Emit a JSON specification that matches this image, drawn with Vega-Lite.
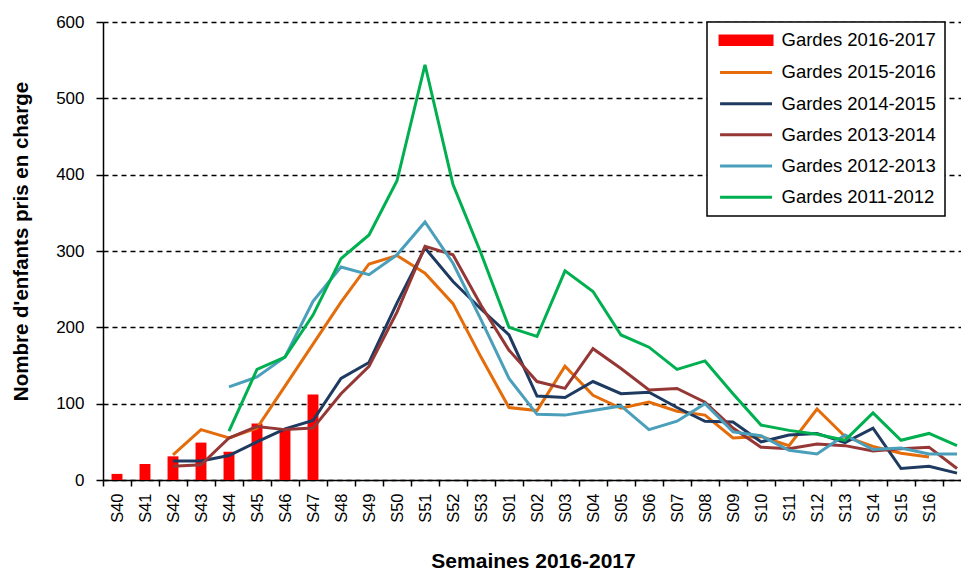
{
  "$schema": "https://vega.github.io/schema/vega-lite/v6.json",
  "autosize": "none",
  "width": 858,
  "height": 458,
  "padding": {"left": 103, "top": 22, "right": 0, "bottom": 96},
  "config": {
    "font": "Liberation Sans",
    "view": {"stroke": null},
    "background": "white"
  },
  "datasets": {
    "bars": [
      {"semaine": "S40", "serie": "Gardes 2016-2017", "valeur": 8},
      {"semaine": "S41", "serie": "Gardes 2016-2017", "valeur": 21},
      {"semaine": "S42", "serie": "Gardes 2016-2017", "valeur": 31},
      {"semaine": "S43", "serie": "Gardes 2016-2017", "valeur": 49},
      {"semaine": "S44", "serie": "Gardes 2016-2017", "valeur": 37},
      {"semaine": "S45", "serie": "Gardes 2016-2017", "valeur": 74},
      {"semaine": "S46", "serie": "Gardes 2016-2017", "valeur": 67},
      {"semaine": "S47", "serie": "Gardes 2016-2017", "valeur": 112}
    ],
    "lines": [
      {"semaine": "S42", "serie": "Gardes 2015-2016", "valeur": 33},
      {"semaine": "S43", "serie": "Gardes 2015-2016", "valeur": 66},
      {"semaine": "S44", "serie": "Gardes 2015-2016", "valeur": 55},
      {"semaine": "S45", "serie": "Gardes 2015-2016", "valeur": 68},
      {"semaine": "S46", "serie": "Gardes 2015-2016", "valeur": 123},
      {"semaine": "S47", "serie": "Gardes 2015-2016", "valeur": 178},
      {"semaine": "S48", "serie": "Gardes 2015-2016", "valeur": 233},
      {"semaine": "S49", "serie": "Gardes 2015-2016", "valeur": 283},
      {"semaine": "S50", "serie": "Gardes 2015-2016", "valeur": 294},
      {"semaine": "S51", "serie": "Gardes 2015-2016", "valeur": 271},
      {"semaine": "S52", "serie": "Gardes 2015-2016", "valeur": 231},
      {"semaine": "S53", "serie": "Gardes 2015-2016", "valeur": 161},
      {"semaine": "S01", "serie": "Gardes 2015-2016", "valeur": 95},
      {"semaine": "S02", "serie": "Gardes 2015-2016", "valeur": 91},
      {"semaine": "S03", "serie": "Gardes 2015-2016", "valeur": 149},
      {"semaine": "S04", "serie": "Gardes 2015-2016", "valeur": 111},
      {"semaine": "S05", "serie": "Gardes 2015-2016", "valeur": 94},
      {"semaine": "S06", "serie": "Gardes 2015-2016", "valeur": 102},
      {"semaine": "S07", "serie": "Gardes 2015-2016", "valeur": 90},
      {"semaine": "S08", "serie": "Gardes 2015-2016", "valeur": 85},
      {"semaine": "S09", "serie": "Gardes 2015-2016", "valeur": 55},
      {"semaine": "S10", "serie": "Gardes 2015-2016", "valeur": 57},
      {"semaine": "S11", "serie": "Gardes 2015-2016", "valeur": 45},
      {"semaine": "S12", "serie": "Gardes 2015-2016", "valeur": 93},
      {"semaine": "S13", "serie": "Gardes 2015-2016", "valeur": 57},
      {"semaine": "S14", "serie": "Gardes 2015-2016", "valeur": 44},
      {"semaine": "S15", "serie": "Gardes 2015-2016", "valeur": 35},
      {"semaine": "S16", "serie": "Gardes 2015-2016", "valeur": 30},

      {"semaine": "S42", "serie": "Gardes 2014-2015", "valeur": 25},
      {"semaine": "S43", "serie": "Gardes 2014-2015", "valeur": 25},
      {"semaine": "S44", "serie": "Gardes 2014-2015", "valeur": 32},
      {"semaine": "S45", "serie": "Gardes 2014-2015", "valeur": 50},
      {"semaine": "S46", "serie": "Gardes 2014-2015", "valeur": 67},
      {"semaine": "S47", "serie": "Gardes 2014-2015", "valeur": 78},
      {"semaine": "S48", "serie": "Gardes 2014-2015", "valeur": 133},
      {"semaine": "S49", "serie": "Gardes 2014-2015", "valeur": 154},
      {"semaine": "S50", "serie": "Gardes 2014-2015", "valeur": 232},
      {"semaine": "S51", "serie": "Gardes 2014-2015", "valeur": 304},
      {"semaine": "S52", "serie": "Gardes 2014-2015", "valeur": 260},
      {"semaine": "S53", "serie": "Gardes 2014-2015", "valeur": 224},
      {"semaine": "S01", "serie": "Gardes 2014-2015", "valeur": 190},
      {"semaine": "S02", "serie": "Gardes 2014-2015", "valeur": 110},
      {"semaine": "S03", "serie": "Gardes 2014-2015", "valeur": 108},
      {"semaine": "S04", "serie": "Gardes 2014-2015", "valeur": 129},
      {"semaine": "S05", "serie": "Gardes 2014-2015", "valeur": 113},
      {"semaine": "S06", "serie": "Gardes 2014-2015", "valeur": 115},
      {"semaine": "S07", "serie": "Gardes 2014-2015", "valeur": 95},
      {"semaine": "S08", "serie": "Gardes 2014-2015", "valeur": 77},
      {"semaine": "S09", "serie": "Gardes 2014-2015", "valeur": 76},
      {"semaine": "S10", "serie": "Gardes 2014-2015", "valeur": 50},
      {"semaine": "S11", "serie": "Gardes 2014-2015", "valeur": 59},
      {"semaine": "S12", "serie": "Gardes 2014-2015", "valeur": 61},
      {"semaine": "S13", "serie": "Gardes 2014-2015", "valeur": 49},
      {"semaine": "S14", "serie": "Gardes 2014-2015", "valeur": 68},
      {"semaine": "S15", "serie": "Gardes 2014-2015", "valeur": 15},
      {"semaine": "S16", "serie": "Gardes 2014-2015", "valeur": 18},
      {"semaine": "S17", "serie": "Gardes 2014-2015", "valeur": 9},

      {"semaine": "S42", "serie": "Gardes 2013-2014", "valeur": 18},
      {"semaine": "S43", "serie": "Gardes 2013-2014", "valeur": 20},
      {"semaine": "S44", "serie": "Gardes 2013-2014", "valeur": 55},
      {"semaine": "S45", "serie": "Gardes 2013-2014", "valeur": 70},
      {"semaine": "S46", "serie": "Gardes 2013-2014", "valeur": 66},
      {"semaine": "S47", "serie": "Gardes 2013-2014", "valeur": 68},
      {"semaine": "S48", "serie": "Gardes 2013-2014", "valeur": 113},
      {"semaine": "S49", "serie": "Gardes 2013-2014", "valeur": 149},
      {"semaine": "S50", "serie": "Gardes 2013-2014", "valeur": 220},
      {"semaine": "S51", "serie": "Gardes 2013-2014", "valeur": 306},
      {"semaine": "S52", "serie": "Gardes 2013-2014", "valeur": 295},
      {"semaine": "S53", "serie": "Gardes 2013-2014", "valeur": 229},
      {"semaine": "S01", "serie": "Gardes 2013-2014", "valeur": 170},
      {"semaine": "S02", "serie": "Gardes 2013-2014", "valeur": 129},
      {"semaine": "S03", "serie": "Gardes 2013-2014", "valeur": 120},
      {"semaine": "S04", "serie": "Gardes 2013-2014", "valeur": 172},
      {"semaine": "S05", "serie": "Gardes 2013-2014", "valeur": 146},
      {"semaine": "S06", "serie": "Gardes 2013-2014", "valeur": 118},
      {"semaine": "S07", "serie": "Gardes 2013-2014", "valeur": 120},
      {"semaine": "S08", "serie": "Gardes 2013-2014", "valeur": 102},
      {"semaine": "S09", "serie": "Gardes 2013-2014", "valeur": 68},
      {"semaine": "S10", "serie": "Gardes 2013-2014", "valeur": 43},
      {"semaine": "S11", "serie": "Gardes 2013-2014", "valeur": 41},
      {"semaine": "S12", "serie": "Gardes 2013-2014", "valeur": 47},
      {"semaine": "S13", "serie": "Gardes 2013-2014", "valeur": 45},
      {"semaine": "S14", "serie": "Gardes 2013-2014", "valeur": 38},
      {"semaine": "S15", "serie": "Gardes 2013-2014", "valeur": 41},
      {"semaine": "S16", "serie": "Gardes 2013-2014", "valeur": 43},
      {"semaine": "S17", "serie": "Gardes 2013-2014", "valeur": 15},

      {"semaine": "S44", "serie": "Gardes 2012-2013", "valeur": 122},
      {"semaine": "S45", "serie": "Gardes 2012-2013", "valeur": 135},
      {"semaine": "S46", "serie": "Gardes 2012-2013", "valeur": 161},
      {"semaine": "S47", "serie": "Gardes 2012-2013", "valeur": 234},
      {"semaine": "S48", "serie": "Gardes 2012-2013", "valeur": 279},
      {"semaine": "S49", "serie": "Gardes 2012-2013", "valeur": 269},
      {"semaine": "S50", "serie": "Gardes 2012-2013", "valeur": 295},
      {"semaine": "S51", "serie": "Gardes 2012-2013", "valeur": 338},
      {"semaine": "S52", "serie": "Gardes 2012-2013", "valeur": 284},
      {"semaine": "S53", "serie": "Gardes 2012-2013", "valeur": 210},
      {"semaine": "S01", "serie": "Gardes 2012-2013", "valeur": 133},
      {"semaine": "S02", "serie": "Gardes 2012-2013", "valeur": 86},
      {"semaine": "S03", "serie": "Gardes 2012-2013", "valeur": 85},
      {"semaine": "S04", "serie": "Gardes 2012-2013", "valeur": 91},
      {"semaine": "S05", "serie": "Gardes 2012-2013", "valeur": 97},
      {"semaine": "S06", "serie": "Gardes 2012-2013", "valeur": 66},
      {"semaine": "S07", "serie": "Gardes 2012-2013", "valeur": 77},
      {"semaine": "S08", "serie": "Gardes 2012-2013", "valeur": 100},
      {"semaine": "S09", "serie": "Gardes 2012-2013", "valeur": 63},
      {"semaine": "S10", "serie": "Gardes 2012-2013", "valeur": 58},
      {"semaine": "S11", "serie": "Gardes 2012-2013", "valeur": 39},
      {"semaine": "S12", "serie": "Gardes 2012-2013", "valeur": 34},
      {"semaine": "S13", "serie": "Gardes 2012-2013", "valeur": 59},
      {"semaine": "S14", "serie": "Gardes 2012-2013", "valeur": 40},
      {"semaine": "S15", "serie": "Gardes 2012-2013", "valeur": 42},
      {"semaine": "S16", "serie": "Gardes 2012-2013", "valeur": 34},
      {"semaine": "S17", "serie": "Gardes 2012-2013", "valeur": 34},

      {"semaine": "S44", "serie": "Gardes 2011-2012", "valeur": 64},
      {"semaine": "S45", "serie": "Gardes 2011-2012", "valeur": 145},
      {"semaine": "S46", "serie": "Gardes 2011-2012", "valeur": 161},
      {"semaine": "S47", "serie": "Gardes 2011-2012", "valeur": 216},
      {"semaine": "S48", "serie": "Gardes 2011-2012", "valeur": 290},
      {"semaine": "S49", "serie": "Gardes 2011-2012", "valeur": 321},
      {"semaine": "S50", "serie": "Gardes 2011-2012", "valeur": 392},
      {"semaine": "S51", "serie": "Gardes 2011-2012", "valeur": 544},
      {"semaine": "S52", "serie": "Gardes 2011-2012", "valeur": 387},
      {"semaine": "S53", "serie": "Gardes 2011-2012", "valeur": 297},
      {"semaine": "S01", "serie": "Gardes 2011-2012", "valeur": 200},
      {"semaine": "S02", "serie": "Gardes 2011-2012", "valeur": 188},
      {"semaine": "S03", "serie": "Gardes 2011-2012", "valeur": 274},
      {"semaine": "S04", "serie": "Gardes 2011-2012", "valeur": 247},
      {"semaine": "S05", "serie": "Gardes 2011-2012", "valeur": 190},
      {"semaine": "S06", "serie": "Gardes 2011-2012", "valeur": 174},
      {"semaine": "S07", "serie": "Gardes 2011-2012", "valeur": 145},
      {"semaine": "S08", "serie": "Gardes 2011-2012", "valeur": 156},
      {"semaine": "S09", "serie": "Gardes 2011-2012", "valeur": 113},
      {"semaine": "S10", "serie": "Gardes 2011-2012", "valeur": 72},
      {"semaine": "S11", "serie": "Gardes 2011-2012", "valeur": 65},
      {"semaine": "S12", "serie": "Gardes 2011-2012", "valeur": 60},
      {"semaine": "S13", "serie": "Gardes 2011-2012", "valeur": 52},
      {"semaine": "S14", "serie": "Gardes 2011-2012", "valeur": 88},
      {"semaine": "S15", "serie": "Gardes 2011-2012", "valeur": 52},
      {"semaine": "S16", "serie": "Gardes 2011-2012", "valeur": 61},
      {"semaine": "S17", "serie": "Gardes 2011-2012", "valeur": 45}
    ]
  },
  "encoding": {
    "x": {
      "field": "semaine",
      "type": "nominal",
      "sort": null,
      "scale": {
        "type": "band",
        "domain": ["S40","S41","S42","S43","S44","S45","S46","S47","S48","S49","S50","S51","S52","S53","S01","S02","S03","S04","S05","S06","S07","S08","S09","S10","S11","S12","S13","S14","S15","S16","S17"],
        "range": [0, 868],
        "paddingInner": 0,
        "paddingOuter": 0
      },
      "axis": {
        "title": "Semaines 2016-2017",
        "titleFontSize": 21,
        "titleFontWeight": "bold",
        "titleColor": "black",
        "titleX": 430,
        "titleY": 87,
        "titleBaseline": "alphabetic",
        "labelAngle": -90,
        "labelAlign": "right",
        "labelBaseline": "middle",
        "labelFontSize": 16.5,
        "labelColor": "black",
        "labelPadding": 7,
        "labelExpr": "datum.value == 'S17' ? '' : datum.value",
        "tickBand": "extent",
        "tickSize": 6,
        "tickColor": "black",
        "tickWidth": 1.5,
        "domainColor": "black",
        "domainWidth": 1.5,
        "grid": false
      }
    },
    "y": {
      "field": "valeur",
      "type": "quantitative",
      "scale": {"domain": [0, 600], "nice": false, "zero": true},
      "axis": {
        "title": "Nombre d'enfants pris en charge",
        "titleFontSize": 20.5,
        "titleFontWeight": "bold",
        "titleColor": "black",
        "titleAngle": -90,
        "titleX": -82,
        "titleY": 219,
        "titleAlign": "center",
        "titleBaseline": "middle",
        "values": [0, 100, 200, 300, 400, 500, 600],
        "labelFontSize": 17,
        "labelColor": "black",
        "labelPadding": 12,
        "tickSize": 7,
        "tickColor": "black",
        "tickWidth": 1.5,
        "domainColor": "black",
        "domainWidth": 1.5,
        "grid": true,
        "gridColor": "black",
        "gridDash": [5, 4],
        "gridWidth": 1.3
      }
    },
    "color": {
      "field": "serie",
      "type": "nominal",
      "scale": {
        "domain": ["Gardes 2016-2017", "Gardes 2015-2016", "Gardes 2014-2015", "Gardes 2013-2014", "Gardes 2012-2013", "Gardes 2011-2012"],
        "range": ["#FF0000", "#E46C0A", "#1F3A60", "#953735", "#4A9FBB", "#00B050"]
      },
      "legend": {
        "title": null,
        "orient": "none",
        "legendX": 604,
        "legendY": 0,
        "padding": 9,
        "strokeColor": "black",
        "fillColor": "white",
        "symbolType": "M-1,0H9",
        "symbolSize": 108,
        "symbolStrokeWidth": 3,
        "labelFontSize": 18.5,
        "labelColor": "black",
        "labelOffset": 47,
        "labelLimit": 300,
        "rowPadding": 12.2,
        "encode": {
          "legend": {"update": {"strokeWidth": {"value": 1.5}}},
          "symbols": {
            "update": {
              "shape": {"signal": "datum.value === 'Gardes 2016-2017' ? 'M-1,-0.8H9V0.8H-1Z' : 'M-1,0H9'"},
              "stroke": {"signal": "datum.value === 'Gardes 2016-2017' ? 'transparent' : scale('color', datum.value)"},
              "fill": {"signal": "datum.value === 'Gardes 2016-2017' ? '#FF0000' : 'transparent'"},
              "strokeWidth": {"value": 3},
              "opacity": {"value": 1}
            }
          }
        }
      }
    }
  },
  "layer": [
    {
      "data": {"name": "bars"},
      "mark": {"type": "bar", "width": {"band": 0.39}}
    },
    {
      "data": {"name": "lines"},
      "mark": {"type": "line", "strokeWidth": 3}
    }
  ]
}
